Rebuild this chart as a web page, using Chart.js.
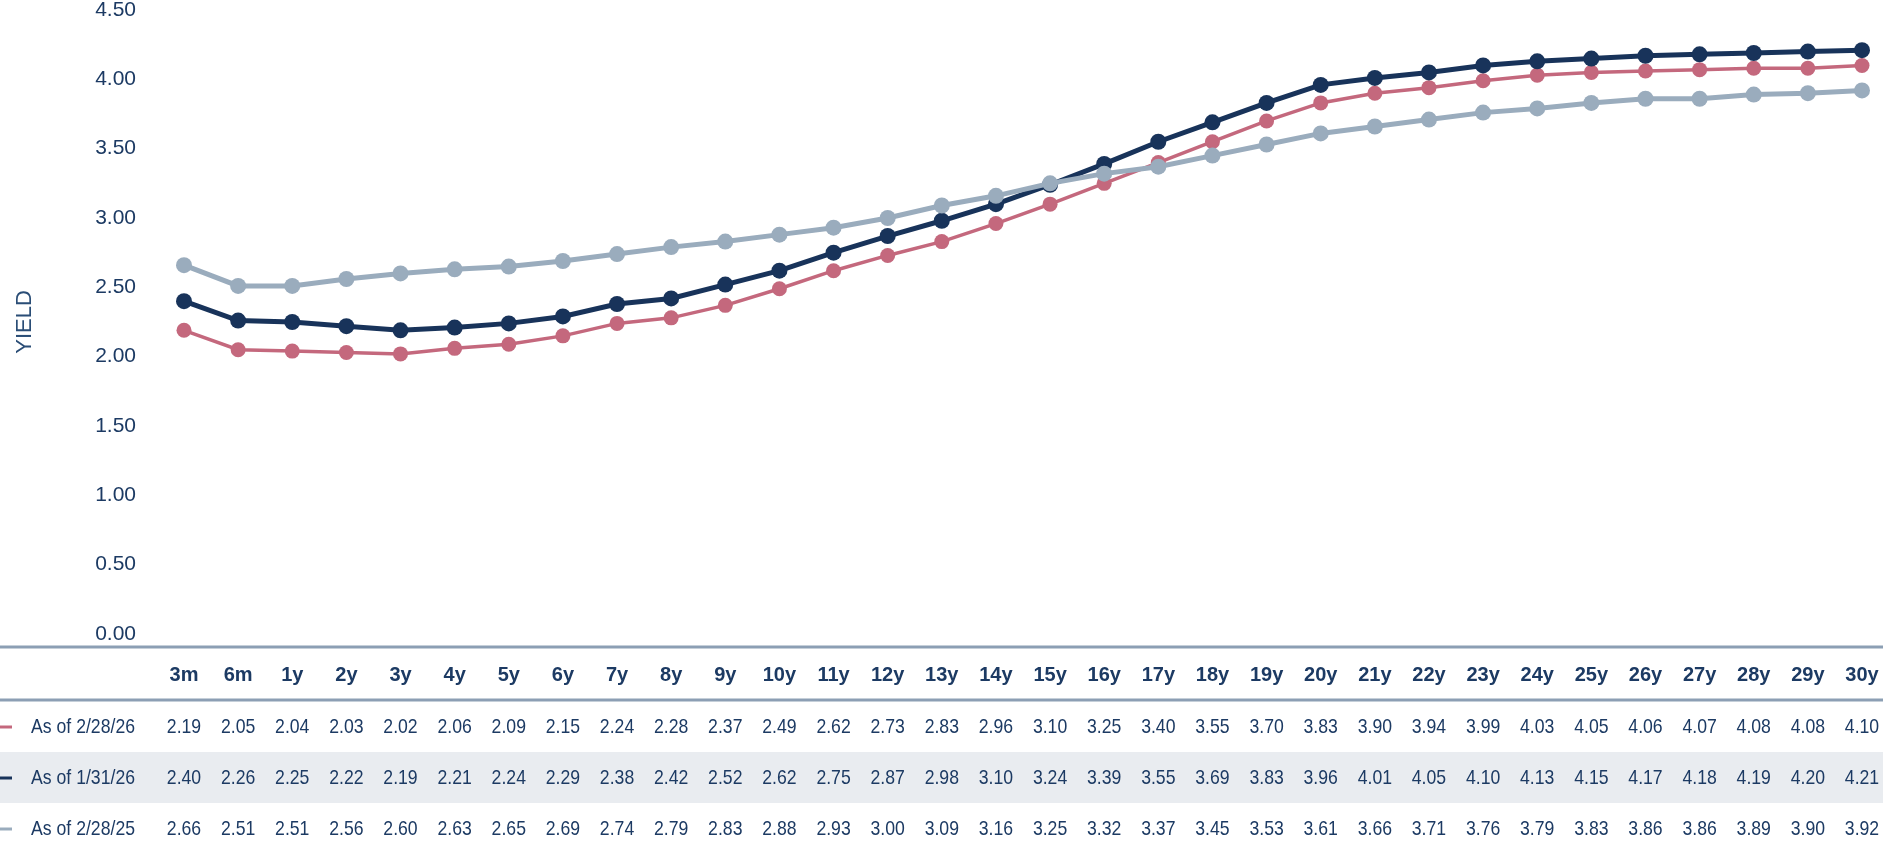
<!DOCTYPE html>
<html>
<head>
<meta charset="utf-8">
<title>Yield Curve</title>
<script src="https://cdn.jsdelivr.net/npm/chart.js@4.4.1/dist/chart.umd.min.js"></script>
<style>
    html, body { margin: 0; padding: 0; background: #ffffff; }
    #wrap { position: relative; width: 1892px; height: 842px; }
</style>
</head>
<body>
<div id="wrap"><canvas id="curveChart"></canvas></div>
<script>
const maturities = ['3m', '6m', '1y', '2y', '3y', '4y', '5y', '6y', '7y', '8y', '9y', '10y',
    '11y', '12y', '13y', '14y', '15y', '16y', '17y', '18y', '19y', '20y',
    '21y', '22y', '23y', '24y', '25y', '26y', '27y', '28y', '29y', '30y'];

const yieldsFeb26 = [2.19, 2.05, 2.04, 2.03, 2.02, 2.06, 2.09, 2.15, 2.24, 2.28, 2.37, 2.49,
    2.62, 2.73, 2.83, 2.96, 3.10, 3.25, 3.40, 3.55, 3.70, 3.83,
    3.90, 3.94, 3.99, 4.03, 4.05, 4.06, 4.07, 4.08, 4.08, 4.10];
const yieldsJan26 = [2.40, 2.26, 2.25, 2.22, 2.19, 2.21, 2.24, 2.29, 2.38, 2.42, 2.52, 2.62,
    2.75, 2.87, 2.98, 3.10, 3.24, 3.39, 3.55, 3.69, 3.83, 3.96,
    4.01, 4.05, 4.10, 4.13, 4.15, 4.17, 4.18, 4.19, 4.20, 4.21];
const yieldsFeb25 = [2.66, 2.51, 2.51, 2.56, 2.60, 2.63, 2.65, 2.69, 2.74, 2.79, 2.83, 2.88,
    2.93, 3.00, 3.09, 3.16, 3.25, 3.32, 3.37, 3.45, 3.53, 3.61,
    3.66, 3.71, 3.76, 3.79, 3.83, 3.86, 3.86, 3.89, 3.90, 3.92];

const seriesLabels = ['As of 2/28/26', 'As of 1/31/26', 'As of 2/28/25'];
const yTicks = { min: 0, max: 4.5, step: 0.5 };

const NAVY = '#18335a';
const PINK = '#c4687d';
const SLATE = '#9aacbd';
const TEXT = '#1c3a63';
const SANS = '"Liberation Sans", Arial, sans-serif';

document.addEventListener('DOMContentLoaded', function () {
    const rows = [
        { label: seriesLabels[0], values: yieldsFeb26, color: PINK },
        { label: seriesLabels[1], values: yieldsJan26, color: NAVY },
        { label: seriesLabels[2], values: yieldsFeb25, color: SLATE }
    ];

    // table body uses a condensed face: squeeze the regular sans horizontally
    function narrowText(ctx, text, x, y, align) {
        ctx.save();
        ctx.translate(x, y);
        ctx.scale(0.84, 1);
        ctx.textAlign = align;
        ctx.fillText(text, 0, 0);
        ctx.restore();
    }

    // data table under the plot, columns follow the x scale
    const tablePlugin = {
        id: 'yieldTable',
        afterDraw(chart) {
            const ctx = chart.ctx;
            const xScale = chart.scales.x;
            const tableRight = 1883;
            const rowCenters = [727, 778, 829];

            ctx.save();

            ctx.fillStyle = '#e9ecf0';
            ctx.fillRect(0, 752, tableRight, 51);

            ctx.strokeStyle = '#8c9fb4';
            ctx.lineWidth = 3;
            [647, 700].forEach(y => {
                ctx.beginPath();
                ctx.moveTo(0, y);
                ctx.lineTo(tableRight, y);
                ctx.stroke();
            });

            ctx.textBaseline = 'middle';
            ctx.textAlign = 'center';
            ctx.fillStyle = TEXT;
            ctx.font = 'bold 20px ' + SANS;
            maturities.forEach((m, i) => {
                ctx.fillText(m, xScale.getPixelForValue(i), 675);
            });

            ctx.font = '21px ' + SANS;
            rows.forEach((row, r) => {
                const y = rowCenters[r];

                ctx.strokeStyle = row.color;
                ctx.lineWidth = 3;
                ctx.beginPath();
                ctx.moveTo(0, y);
                ctx.lineTo(12, y);
                ctx.stroke();

                ctx.fillStyle = TEXT;
                narrowText(ctx, row.label, 135, y, 'right');
                row.values.forEach((v, i) => {
                    narrowText(ctx, v.toFixed(2), xScale.getPixelForValue(i), y, 'center');
                });
            });

            ctx.restore();
        }
    };

    const ctx = document.getElementById('curveChart').getContext('2d');
    new Chart(ctx, {
        type: 'line',
        data: {
            labels: maturities,
            datasets: [
                {
                    label: seriesLabels[2],
                    data: yieldsFeb25,
                    borderColor: SLATE,
                    backgroundColor: SLATE,
                    borderWidth: 5,
                    pointRadius: 8,
                    order: 0
                },
                {
                    label: seriesLabels[1],
                    data: yieldsJan26,
                    borderColor: NAVY,
                    backgroundColor: NAVY,
                    borderWidth: 5,
                    pointRadius: 8,
                    order: 1
                },
                {
                    label: seriesLabels[0],
                    data: yieldsFeb26,
                    borderColor: PINK,
                    backgroundColor: PINK,
                    borderWidth: 3.5,
                    pointRadius: 7.5,
                    order: 2
                }
            ].map(ds => Object.assign(ds, {
                pointBorderWidth: 0,
                pointHoverRadius: 8,
                tension: 0,
                clip: false
            }))
        },
        options: {
            responsive: true,
            maintainAspectRatio: false,
            animation: false,
            layout: {
                padding: { top: 0, right: 30, bottom: 208, left: 0 }
            },
            plugins: {
                legend: { display: false },
                tooltip: { enabled: false }
            },
            scales: {
                x: {
                    type: 'category',
                    offset: false,
                    display: false
                },
                y: {
                    min: yTicks.min,
                    max: yTicks.max,
                    grid: { display: false, drawTicks: false },
                    border: { display: false },
                    ticks: {
                        stepSize: yTicks.step,
                        padding: 48,
                        color: TEXT,
                        font: { family: SANS, size: 21 },
                        callback: value => Number(value).toFixed(2)
                    },
                    title: {
                        display: true,
                        text: 'YIELD',
                        color: '#2a4d76',
                        font: { family: SANS, size: 22 },
                        padding: { top: 12, bottom: 0 }
                    },
                    afterFit(scale) {
                        scale.width = 184;
                        scale.paddingTop = 10;
                        scale.paddingBottom = 0;
                    }
                }
            }
        },
        plugins: [tablePlugin]
    });
});
</script>
</body>
</html>
